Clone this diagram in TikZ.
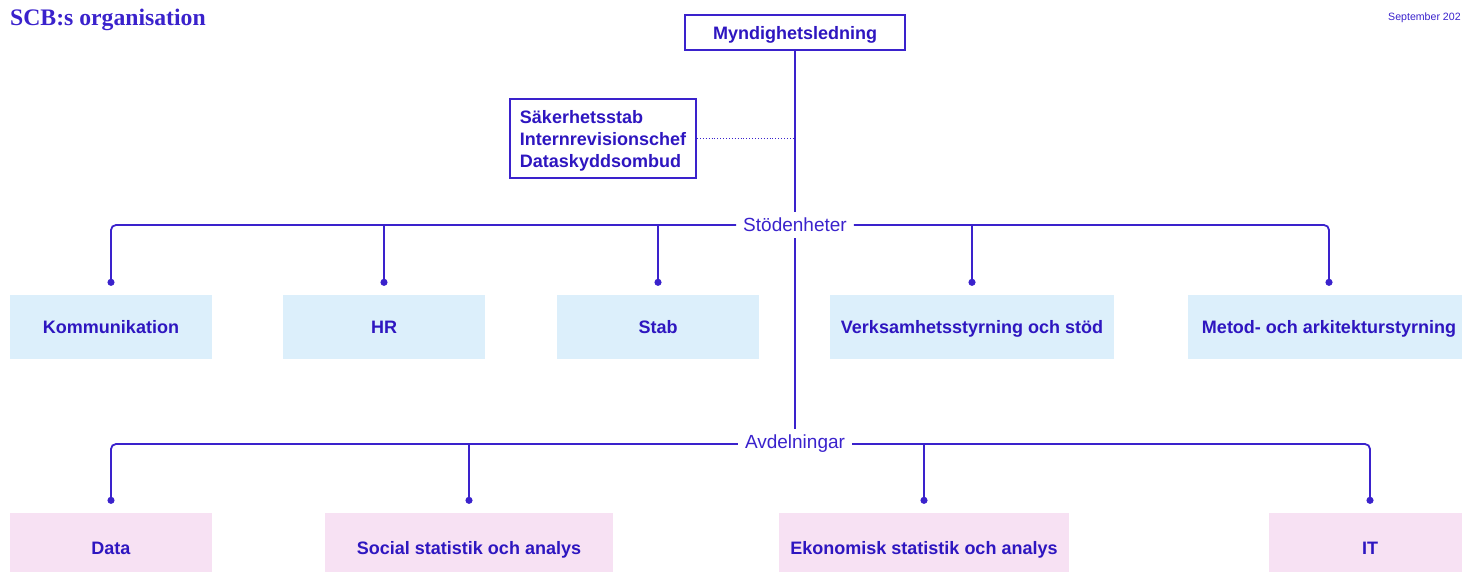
\documentclass[tikz,border=0pt]{standalone}
\usepackage{fontspec}
\setmainfont{Liberation Sans}
\newfontfamily\titlefont{Liberation Serif}
\usetikzlibrary{arrows.meta}
\definecolor{scbink}{HTML}{3A22CC}
\definecolor{scbtext}{HTML}{2E16C0}
\definecolor{boxblue}{HTML}{DCEFFB}
\definecolor{boxpink}{HTML}{F7E1F3}
\tikzset{
  trunk/.style={draw=scbink, line width=1.8pt},
  conn/.style={draw=scbink, line width=1.8pt, rounded corners=5pt, -{Circle[length=7pt,width=7pt]}},
  unitbox/.style={inner sep=0pt, text height=13pt, text depth=0pt, font=\fontsize{18}{21}\selectfont\bfseries, text=scbtext},
  stodbox/.style={unitbox, fill=boxblue, minimum height=64pt},
  avdbox/.style={unitbox, fill=boxpink, minimum height=70pt},
  grouplabel/.style={font=\fontsize{19}{22}\selectfont, text=scbink, inner xsep=7pt, inner ysep=6pt},
  topbox/.style={draw=scbink, line width=2pt, fill=white, inner sep=0pt, font=\fontsize{18}{21}\selectfont\bfseries, text=scbtext},
}
\begin{document}
\begin{tikzpicture}[x=1pt,y=-1pt]
\useasboundingbox (0,0) rectangle (1462,571);
\clip (0,0) rectangle (1462,571);

% title and date
\node[anchor=base west, inner sep=0pt, font=\titlefont\fontsize{23.7}{26}\selectfont\bfseries, text=scbink] (title) at (10,25) {SCB:s organisation};
\node[anchor=base west, inner sep=0pt, font=\fontsize{10.6}{12}\selectfont, text=scbink] (date) at (1388,20) {September 202};

% top
\node[topbox, text height=13pt, text depth=0pt, minimum width=220pt, minimum height=35pt] (myn) at (795,32.5) {Myndighetsledning};
\node[topbox, minimum width=186pt, minimum height=79pt, align=left, font=\fontsize{18}{22}\selectfont\bfseries] (sak) at (603,138.5) {\rule{0pt}{17.5pt}Säkerhetsstab\\Internrevisionschef\\Dataskyddsombud};

% group labels
\node[grouplabel] (stod) at (795,225) {Stödenheter};
\node[grouplabel] (avd) at (795,444) {Avdelningar};

% support units
\node[stodbox, minimum width=202pt] (kom) at (111,327) {Kommunikation};
\node[stodbox, minimum width=202pt] (hr) at (384,327) {HR};
\node[stodbox, minimum width=202pt] (stab) at (658,327) {Stab};
\node[stodbox, minimum width=284pt] (verk) at (972,327) {Verksamhetsstyrning och stöd};
\node[stodbox, minimum width=282pt] (metod) at (1329,327) {Metod- och arkitekturstyrning};

% departments
\node[avdbox, minimum width=202pt] (data) at (111,548) {Data};
\node[avdbox, minimum width=288pt] (soc) at (469,548) {Social statistik och analys};
\node[avdbox, minimum width=290pt] (eko) at (924,548) {Ekonomisk statistik och analys};
\node[avdbox, minimum width=202pt] (it) at (1370,548) {IT};

% trunk
\draw[trunk] (myn.south) -- (stod.north);
\draw[trunk] (stod.south) -- (avd.north);
\draw[scbink, line width=0.9pt, dotted] (sak.east) -- (sak.east -| myn.south);

% support connectors
\draw[conn] (stod.west) -| ([yshift=9pt]kom.north);
\draw[conn] (stod.east) -| ([yshift=9pt]metod.north);
\draw[conn] (hr.north |- stod.west) -- ([yshift=9pt]hr.north);
\draw[conn] (stab.north |- stod.west) -- ([yshift=9pt]stab.north);
\draw[conn] (verk.north |- stod.east) -- ([yshift=9pt]verk.north);

% department connectors
\draw[conn] (avd.west) -| ([yshift=9pt]data.north);
\draw[conn] (avd.east) -| ([yshift=9pt]it.north);
\draw[conn] (soc.north |- avd.west) -- ([yshift=9pt]soc.north);
\draw[conn] (eko.north |- avd.east) -- ([yshift=9pt]eko.north);
\end{tikzpicture}
\end{document}
